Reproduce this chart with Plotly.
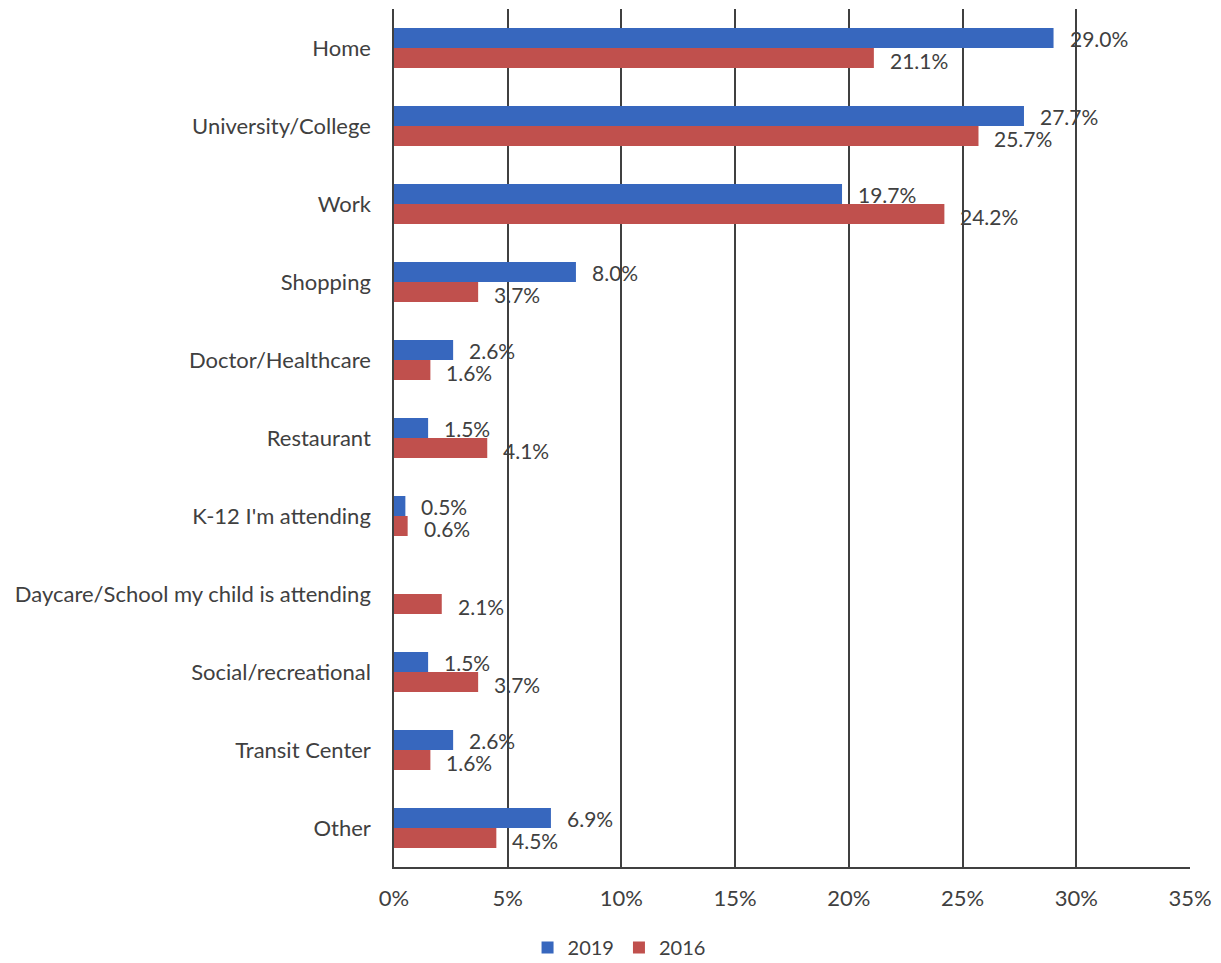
import plotly.graph_objects as go

# Trip destination shares by survey year (percent)
categories = [
    "Home", "University/College", "Work", "Shopping", "Doctor/Healthcare",
    "Restaurant", "K-12 I'm attending", "Daycare/School my child is attending",
    "Social/recreational", "Transit Center", "Other",
]
share_2019 = [29.0, 27.7, 19.7, 8.0, 2.6, 1.5, 0.5, None, 1.5, 2.6, 6.9]
share_2016 = [21.1, 25.7, 24.2, 3.7, 1.6, 4.1, 0.6, 2.1, 3.7, 1.6, 4.5]
x_ticks = [0, 5, 10, 15, 20, 25, 30, 35]

BLUE = "#3767BE"
RED = "#C0504D"
TEXT = "#404040"
FONT = "Lato"
SIZE = 22

fig = go.Figure()
fig.add_trace(go.Bar(name="2019", y=categories, x=share_2019, orientation="h",
                     marker=dict(color=BLUE, line=dict(width=0))))
fig.add_trace(go.Bar(name="2016", y=categories, x=share_2016, orientation="h",
                     marker=dict(color=RED, line=dict(width=0))))

# value labels beside each bar
annotations = []
for vals, shift in ((share_2019, 10), (share_2016, -12)):
    for cat, v in zip(categories, vals):
        if v is None:
            continue
        annotations.append(dict(
            x=v, y=cat, xref="x", yref="y", text=f"{v:.1f}%",
            showarrow=False, xanchor="left", yanchor="middle",
            xshift=14, yshift=shift,
            font=dict(family=FONT, size=21, color=TEXT),
        ))

fig.update_layout(
    width=1221, height=963,
    margin=dict(l=394, r=29, t=9, b=96),
    paper_bgcolor="white", plot_bgcolor="white",
    barmode="group", bargap=0.487, bargroupgap=0,
    font=dict(family=FONT, size=SIZE, color=TEXT),
    annotations=annotations,
    showlegend=True,
    legend=dict(orientation="h", xref="container", yref="container",
                x=0.507, xanchor="center", y=0.016, yanchor="middle",
                font=dict(family=FONT, size=20, color=TEXT),
                itemwidth=30, tracegroupgap=0),
    xaxis=dict(range=[0, 35], tickvals=x_ticks,
               ticktext=[f"{t}%" for t in x_ticks],
               showgrid=True, gridcolor="#404040", gridwidth=1.5,
               zeroline=False, showline=True, linecolor="#404040", linewidth=1.5,
               ticks="", ticklabelstandoff=11,
               tickfont=dict(family=FONT, size=SIZE, color=TEXT)),
    yaxis=dict(categoryorder="array", categoryarray=categories,
               autorange="reversed", showgrid=False, zeroline=False,
               showline=True, linecolor="#404040", linewidth=1.5,
               ticks="", ticklabelstandoff=17,
               tickfont=dict(family=FONT, size=SIZE, color=TEXT)),
)

fig.write_html("out.html")
